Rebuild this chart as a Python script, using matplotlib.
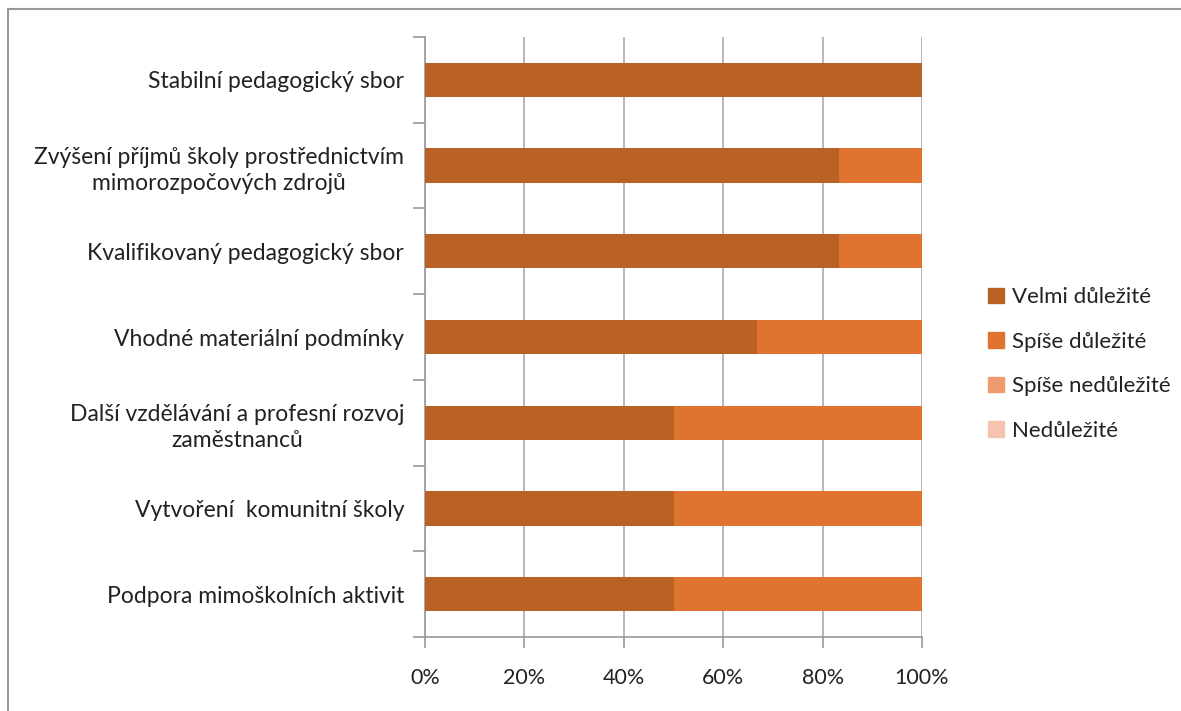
import matplotlib.pyplot as plt
import matplotlib.patches as mpatches
import numpy as np

plt.rcParams['font.family'] = ['Lato', 'DejaVu Sans']

# categories from bottom to top
categories = [
    "Podpora mimoškolních aktivit",
    "Vytvoření  komunitní školy",
    "Další vzdělávání a profesní rozvoj\nzaměstnanců",
    "Vhodné materiální podmínky",
    "Kvalifikovaný pedagogický sbor",
    "Zvýšení příjmů školy prostřednictvím\nmimorozpočových zdrojů",
    "Stabilní pedagogický sbor",
]
series_names = ["Velmi důležité", "Spíše důležité", "Spíše nedůležité", "Nedůležité"]
velmi = [50, 50, 50, 66.7, 83.3, 83.3, 100]
spise = [50, 50, 50, 33.3, 16.7, 16.7, 0]
spise_ne = [0, 0, 0, 0, 0, 0, 0]
nedul = [0, 0, 0, 0, 0, 0, 0]
colors = ['#BA6125', '#DF7430', '#F09A70', '#F6C3B0']

fig = plt.figure(figsize=(11.81, 7.11), dpi=100)
ax = fig.add_axes([0.3599, 0.104, 0.4208, 0.844])

y = np.arange(len(categories))
left = np.zeros(len(categories))
for name, vals, col in zip(series_names, [velmi, spise, spise_ne, nedul], colors):
    ax.barh(y, vals, left=left, height=0.4, color=col, label=name, zorder=3)
    left += np.array(vals)

ax.set_xlim(0, 100)
ax.set_ylim(-0.5, len(categories) - 0.5)
ax.set_xticks([0, 20, 40, 60, 80, 100])
ax.set_xticklabels(['0%', '20%', '40%', '60%', '80%', '100%'], fontsize=15.5, color='#222222')
ax.set_yticks(y)
ax.set_yticklabels(categories, fontsize=16.5, color='#222222',
                   multialignment='center', linespacing=1.3)
ax.set_yticks(np.arange(-0.5, len(categories)), minor=True)
ax.tick_params(axis='y', which='major', length=0, pad=15)
ax.tick_params(axis='y', which='minor', length=9, color='#999999', width=1.2)
ax.tick_params(axis='x', length=8, color='#999999', width=1.2, pad=14)

ax.grid(axis='x', color='#aaaaaa', linewidth=1.2, zorder=0)
for s in ['top', 'right']:
    ax.spines[s].set_visible(False)
for s in ['left', 'bottom']:
    ax.spines[s].set_color('#999999')
    ax.spines[s].set_linewidth(1.2)

handles = [mpatches.Patch(color=c, label=n) for n, c in zip(series_names, colors)]
fig.legend(handles=handles, loc='center left', bbox_to_anchor=(0.82, 0.488),
           frameon=False, fontsize=16, handlelength=0.7, handleheight=0.7,
           handletextpad=0.35, labelspacing=1.1, labelcolor='#222222')

# chart area border (top and left edges visible)
fig.patches.append(mpatches.Rectangle((8 / 1181, -0.1), 1.2, 1 - 9 / 711 + 0.1,
                                      transform=fig.transFigure, fill=False,
                                      edgecolor='#999999', linewidth=1.5))

fig.savefig('out.png', dpi=100)
